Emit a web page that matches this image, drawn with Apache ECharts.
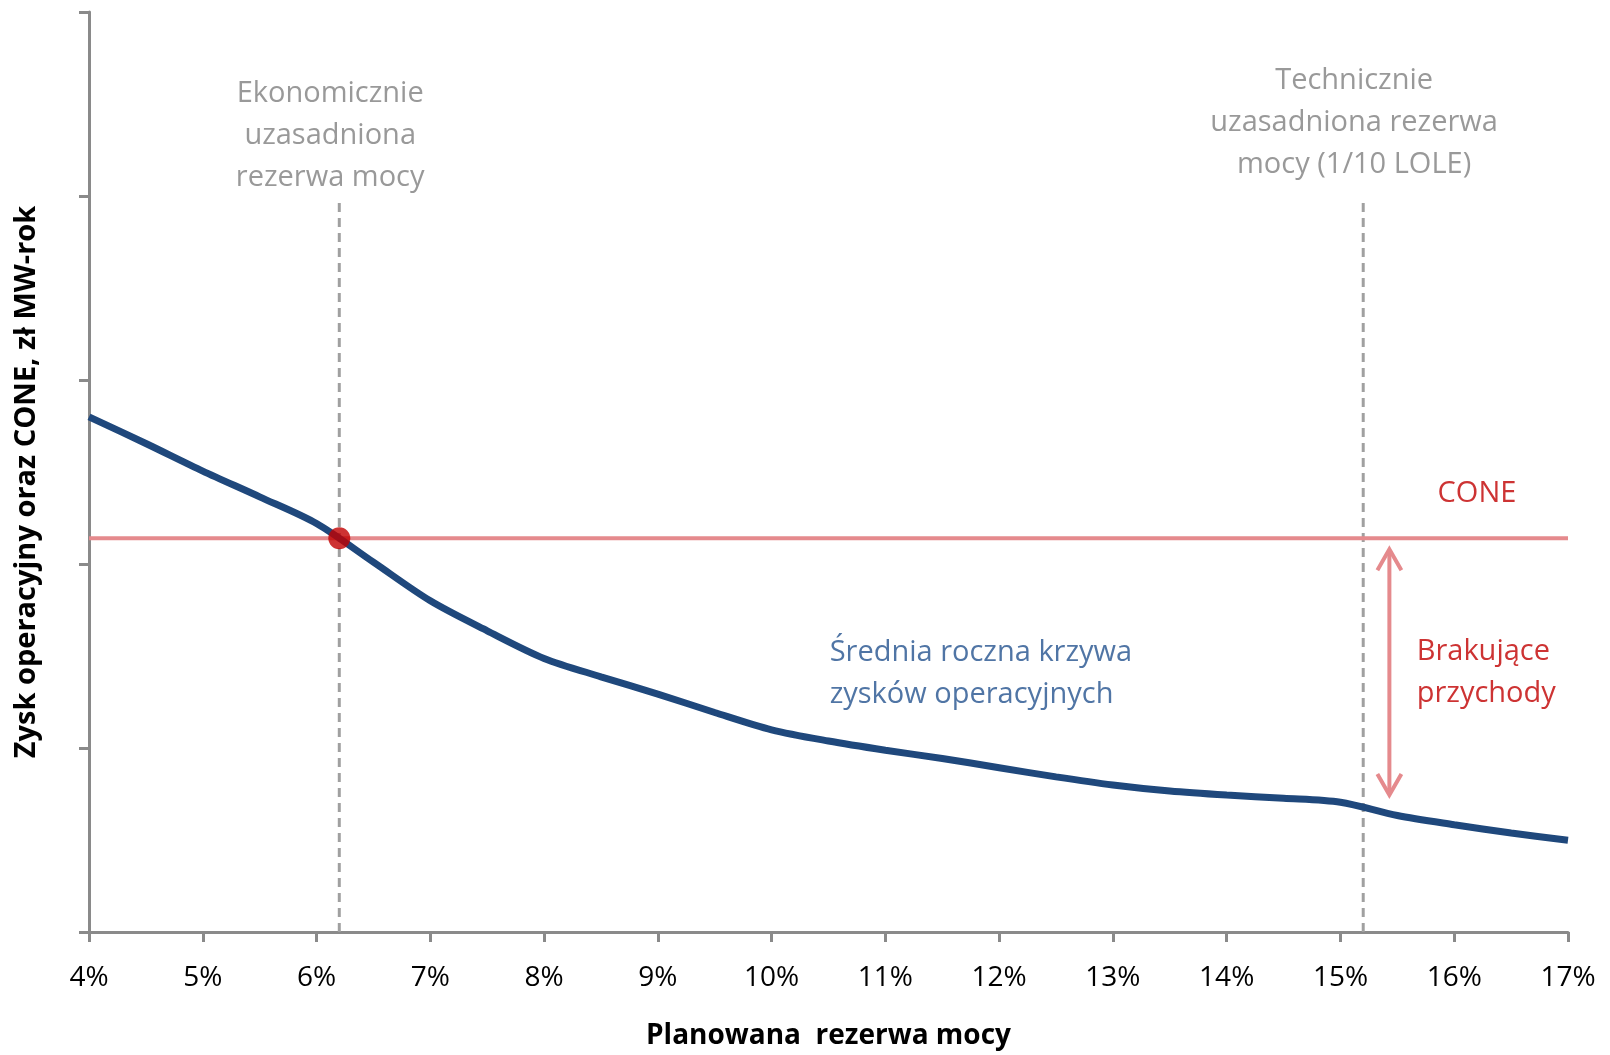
<!DOCTYPE html>
<html>
<head>
<meta charset="utf-8">
<script src="https://cdn.jsdelivr.net/npm/echarts@6/dist/echarts.min.js"></script>
<style>html,body{margin:0;padding:0;background:#fff}#c{width:1610px;height:1055px}</style>
</head>
<body>
<div id="c"></div>
<script>
// Data
const reserve = [4, 4.5, 5, 5.5, 6, 6.5, 7, 7.5, 8, 8.5, 9, 9.5, 10, 10.5, 11, 11.5, 12, 12.5, 13, 13.5, 14, 14.5, 15, 15.5, 16, 16.5, 17];
const profit  = [2.80, 2.655, 2.505, 2.365, 2.22, 2.01, 1.80, 1.637, 1.487, 1.387, 1.293, 1.193, 1.099, 1.038, 0.988, 0.943, 0.893, 0.843, 0.799, 0.766, 0.744, 0.727, 0.705, 0.633, 0.583, 0.538, 0.499];
const coneValue = 2.14;
const xRange = [4, 17];
const economicReserve = 6.2;
const technicalReserve = 15.2;
const guideTop = 3.98;
const arrowX = 15.43;
const arrowRange = [2.08, 0.745];
const yTicks = [0, 1, 2, 3, 4, 5];

const FONT = '"Open Sans", "Noto Sans", sans-serif';
const profitData = reserve.map((x, i) => [x, profit[i]]);

function note(x, y, text, color, align) {
  return {
    type: 'scatter', symbolSize: 0, silent: true, z: 10,
    data: [[x, y]],
    label: {
      show: true, position: 'inside', formatter: text, color: color,
      fontFamily: FONT, fontSize: 29, lineHeight: 42, align: align, verticalAlign: 'middle'
    }
  };
}

const chart = echarts.init(document.getElementById('c'));
chart.setOption({
  animation: false,
  backgroundColor: '#fff',
  grid: { left: 89, right: 42, top: 12, bottom: 117, containLabel: false },
  xAxis: {
    type: 'value', min: xRange[0], max: xRange[1], interval: 1,
    name: 'Planowana  rezerwa mocy', nameLocation: 'middle', nameGap: 90,
    nameTextStyle: { fontFamily: FONT, fontWeight: 'bold', fontSize: 28, color: '#000' },
    axisLine: { show: true, onZero: false, lineStyle: { color: '#8a8a8a', width: 3 } },
    axisTick: { show: true, length: 10, lineStyle: { color: '#8a8a8a', width: 3 } },
    axisLabel: { formatter: '{value}%', fontFamily: FONT, fontSize: 28, color: '#000', margin: 32 },
    splitLine: { show: false }
  },
  yAxis: {
    type: 'value', min: yTicks[0], max: yTicks[yTicks.length - 1], interval: 1,
    name: 'Zysk operacyjny oraz CONE, zł MW-rok', nameLocation: 'middle', nameGap: 48,
    nameTextStyle: { fontFamily: FONT, fontWeight: 'bold', fontSize: 29, color: '#000', padding: [0, 20, 0, 0] },
    axisLine: { show: true, lineStyle: { color: '#8a8a8a', width: 3 } },
    axisTick: { show: true, length: 10, lineStyle: { color: '#8a8a8a', width: 3 } },
    axisLabel: { show: false },
    splitLine: { show: false }
  },
  series: [
    {
      type: 'line', data: [[economicReserve, 0], [economicReserve, guideTop]], symbol: 'none', silent: true,
      lineStyle: { color: '#a0a0a0', width: 3, type: [9, 6] }, z: 2
    },
    {
      type: 'line', data: [[technicalReserve, 0], [technicalReserve, guideTop]], symbol: 'none', silent: true,
      lineStyle: { color: '#a0a0a0', width: 3, type: [9, 6] }, z: 2
    },
    {
      type: 'line', data: [[xRange[0], coneValue], [xRange[1], coneValue]], symbol: 'none', silent: true,
      lineStyle: { color: '#e58a8d', width: 4 }, z: 3
    },
    {
      type: 'line', data: profitData, smooth: 0.3, symbol: 'none', silent: true,
      lineStyle: { color: '#1f487c', width: 7 }, z: 4
    },
    {
      type: 'custom', silent: true, z: 5,
      data: [[arrowX, arrowRange[0], arrowRange[1]]],
      renderItem: function (params, api) {
        const top = api.coord([api.value(0), api.value(1)]);
        const bot = api.coord([api.value(0), api.value(2)]);
        const s = { stroke: '#e58a8d', lineWidth: 4, fill: 'none' };
        const w = 12, h = 21;
        return {
          type: 'group',
          children: [
            { type: 'line', shape: { x1: top[0], y1: top[1] + 2, x2: bot[0], y2: bot[1] - 2 }, style: s },
            { type: 'polyline', shape: { points: [[top[0] - w, top[1] + h], [top[0], top[1]], [top[0] + w, top[1] + h]] }, style: s },
            { type: 'polyline', shape: { points: [[bot[0] - w, bot[1] - h], [bot[0], bot[1]], [bot[0] + w, bot[1] - h]] }, style: s }
          ]
        };
      }
    },
    {
      type: 'scatter', data: [[economicReserve, coneValue]], symbol: 'circle', symbolSize: 22, silent: true,
      itemStyle: { color: '#c00000' }, z: 6
    },
    note(6.12, 4.325, 'Ekonomicznie\nuzasadniona\nrezerwa mocy', '#7f7f7f', 'center'),
    note(15.12, 4.40, 'Technicznie\nuzasadniona rezerwa\nmocy (1/10 LOLE)', '#7f7f7f', 'center'),
    note(10.51, 1.404, 'Średnia roczna krzywa\nzysków operacyjnych', '#24528f', 'left'),
    note(16.20, 2.381, 'CONE', '#c00000', 'center'),
    note(15.67, 1.407, 'Brakujące\nprzychody', '#c00000', 'left')
  ]
});
</script>
</body>
</html>
